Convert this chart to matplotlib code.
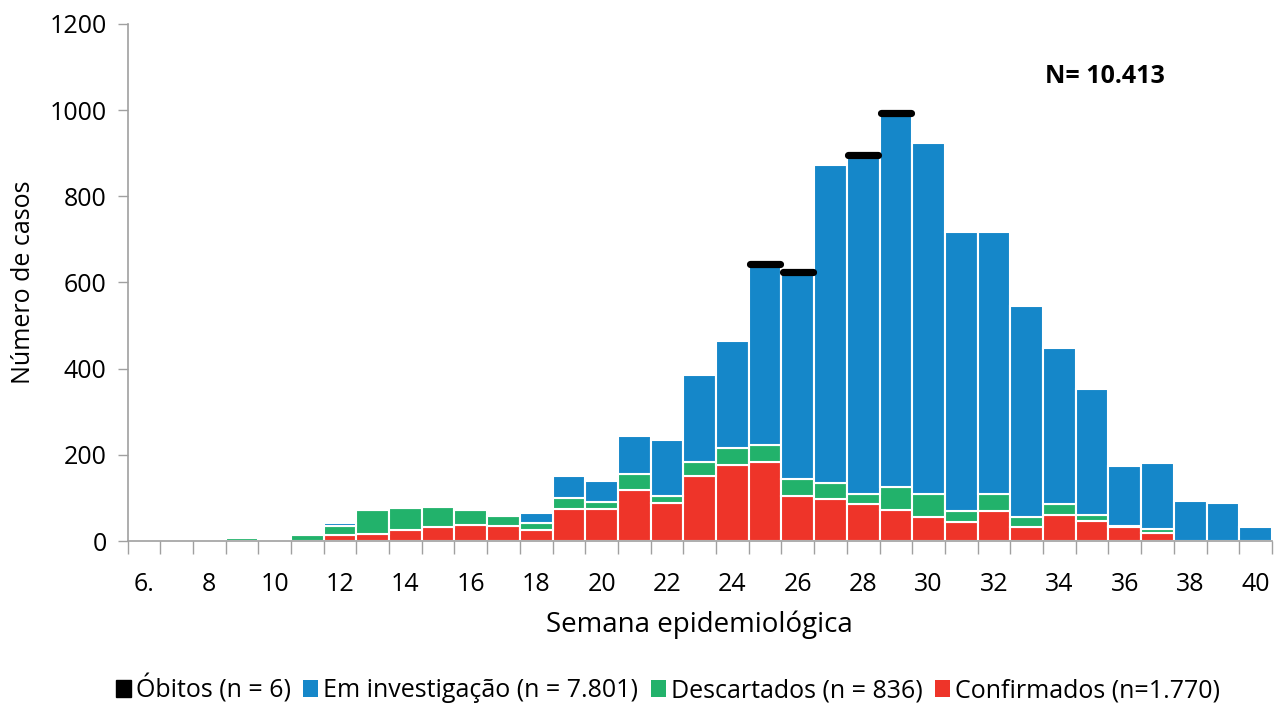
import matplotlib
matplotlib.use("Agg")
import matplotlib.pyplot as plt
import numpy as np
from matplotlib.patches import Patch

plt.rcParams['font.family'] = ['Open Sans', 'DejaVu Sans']

weeks = list(range(6, 41))
confirmados = [0, 0, 0, 0, 0, 0, 14, 17, 25, 32, 38, 35, 25, 75, 75, 118, 88, 151, 176, 183,
               104, 98, 86, 72, 56, 43, 70, 33, 61, 46, 33, 19, 0, 0, 0]
descartados = [0, 0, 0, 7, 0, 15, 21, 54, 52, 47, 33, 23, 16, 26, 15, 38, 16, 32, 40, 41,
               39, 37, 22, 53, 52, 27, 38, 22, 24, 15, 2, 10, 0, 0, 0]
investigacao = [0, 0, 0, 0, 0, 0, 6, 0, 0, 0, 0, 0, 23, 49, 49, 88, 130, 202, 248, 416,
                477, 738, 782, 863, 815, 646, 608, 490, 362, 291, 138, 152, 94, 89, 32]
obitos_weeks = [25, 26, 28, 29]
obitos_y = [644, 625, 897, 994]
x_labels = ["6.", "8", "10", "12", "14", "16", "18", "20", "22", "24", "26", "28",
            "30", "32", "34", "36", "38", "40"]

c_blue = "#1587C9"
c_green = "#22B26B"
c_red = "#EE3429"

fig = plt.figure(figsize=(12.75, 7.04), dpi=100)
ax = fig.add_axes([0.100, 0.2315, 0.8976, 0.7345])

w = np.array(weeks)
conf = np.array(confirmados)
desc = np.array(descartados)
inv = np.array(investigacao)
kw = dict(width=1.0, edgecolor="white", linewidth=1.5, align="center")
ax.bar(w, conf, color=c_red, **kw)
ax.bar(w, desc, bottom=conf, color=c_green, **kw)
ax.bar(w, inv, bottom=conf + desc, color=c_blue, **kw)

for xw, yv in zip(obitos_weeks, obitos_y):
    ax.plot([xw - 0.46, xw + 0.46], [yv, yv], color="black", lw=5.2,
            solid_capstyle="round", zorder=5)

ax.set_xlim(5.5, 40.5)
ax.set_ylim(0, 1200)
ax.set_yticks(range(0, 1201, 200))
ax.tick_params(axis="y", labelsize=18, length=7, width=1, color="#A0A0A0", pad=8)

ax.set_xticks(np.arange(5.5, 41, 1.0))
ax.set_xticklabels([])
ax.tick_params(axis="x", which="major", length=9, width=1, color="#A0A0A0")
ax.set_xticks(list(range(6, 41, 2)), labels=x_labels, minor=True)
ax.tick_params(axis="x", which="minor", length=0, labelsize=18, pad=22)

for s in ["top", "right"]:
    ax.spines[s].set_visible(False)
for s in ["left", "bottom"]:
    ax.spines[s].set_color("#A0A0A0")
    ax.spines[s].set_linewidth(1.2)

ax.set_ylabel("Número de casos", fontsize=18, labelpad=10)
ax.set_xlabel("Semana epidemiológica", fontsize=20, labelpad=10)

ax.text(33.55, 1077, "N= 10.413", fontsize=18, fontweight="bold", va="center", ha="left")

handles = [Patch(facecolor="black", edgecolor="black"),
           Patch(facecolor=c_blue), Patch(facecolor=c_green), Patch(facecolor=c_red)]
labels = ["Óbitos (n = 6)", "Em investigação (n = 7.801)", "Descartados (n = 836)",
          "Confirmados (n=1.770)"]
fig.legend(handles, labels, loc="center", bbox_to_anchor=(0.524, 0.022), ncol=4,
           frameon=False, fontsize=18, handlelength=0.6, handleheight=0.7,
           handletextpad=0.2, columnspacing=0.5, borderaxespad=0)

fig.savefig("out.png", dpi=100)
